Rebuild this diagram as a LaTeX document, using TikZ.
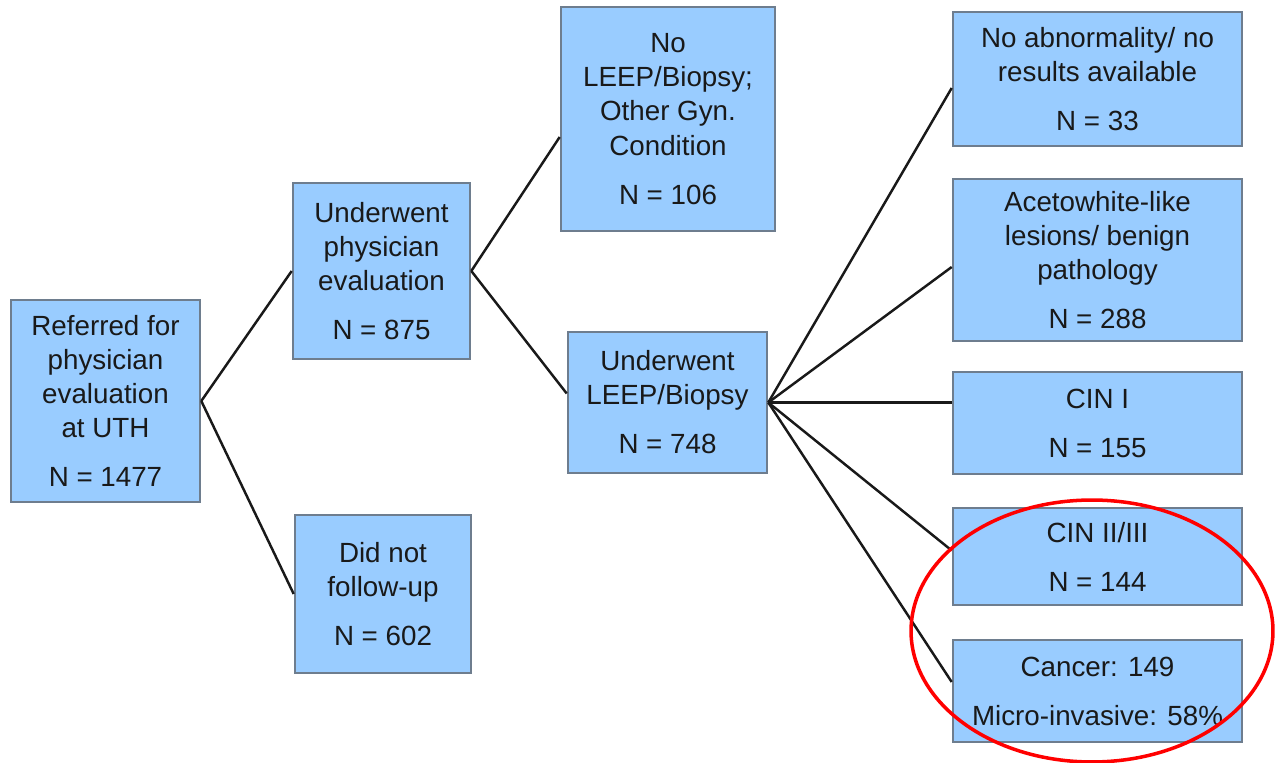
\documentclass[tikz,border=0pt]{standalone}
\usepackage{fontspec}
\setmainfont{Liberation Sans}
\usepackage{tikz}
\usetikzlibrary{calc}
\definecolor{boxblue}{RGB}{153,204,255}
\definecolor{boxedge}{RGB}{110,125,142}
\definecolor{txtgray}{RGB}{25,25,25}
\tikzset{
	box/.style={draw=boxedge, fill=boxblue, line width=1.5pt, align=center, inner sep=0pt,
		text=txtgray, font=\fontsize{15.8}{19.4}\selectfont},
	link/.style={line width=1.4pt, color=black!90},
}

\begin{document}
\begin{tikzpicture}[x=0.02cm, y=-0.02cm]
		%%%%% START %%%%%
		
		\useasboundingbox (0, 0) rectangle (1275, 763);
		
		\node[box, minimum width=3.78cm, minimum height=4.04cm] (refer) at (105.5, 401) {Referred for\\physician\\evaluation\\at UTH\\[8.5pt]N = 1477};
		
		\node[box, minimum width=3.54cm, minimum height=3.52cm] (physeval) at (381.5, 271) {Underwent\\physician\\evaluation\\[8.5pt]N = 875};
		\node[box, minimum width=3.52cm, minimum height=3.16cm] (nofollow) at (383, 594) {Did not\\follow-up\\[8.5pt]N = 602};
		
		\node[box, minimum width=4.28cm, minimum height=4.48cm] (noleep) at (668, 119) {No\\LEEP/Biopsy;\\Other Gyn.\\Condition\\[8.5pt]N = 106};
		\node[box, minimum width=3.98cm, minimum height=2.82cm] (leep) at (667.5, 402.5) {Underwent\\LEEP/Biopsy\\[8.5pt]N = 748};
		
		\node[box, minimum width=5.78cm, minimum height=2.68cm] (normal) at (1097.5, 79) {No abnormality/ no\\results available\\[8.5pt]N = 33};
		\node[box, minimum width=5.78cm, minimum height=3.24cm] (benign) at (1097.5, 260) {Acetowhite-like\\lesions/ benign\\pathology\\[8.5pt]N = 288};
		\node[box, minimum width=5.78cm, minimum height=2.04cm] (cinone) at (1097.5, 423) {CIN I\\[8.5pt]N = 155};
		\node[box, minimum width=5.78cm, minimum height=1.94cm] (cintwo) at (1097.5, 556.5) {CIN II/III\\[8.5pt]N = 144};
		\node[box, minimum width=5.78cm, minimum height=2.04cm] (cancer) at (1097.5, 691) {Cancer: 149\\[8.5pt]Micro-invasive: 58\%};
		
		\draw[link] (refer.east) -- (physeval.west);
		\draw[link] (refer.east) -- (nofollow.west);
		
		\draw[link] (physeval.east) -- ([yshift=-0.36cm]noleep.west);
		\draw[link] (physeval.east) -- ([yshift=0.18cm]leep.west);
		
		\draw[link] (leep.east) -- ([yshift=-0.18cm]normal.west);
		\draw[link] (leep.east) -- ([yshift=-0.14cm]benign.west);
		\draw[link] (leep.east) -- (leep.east -| cinone.west);
		\draw[link] (leep.east) -- ([yshift=0.12cm]cintwo.west);
		\draw[link] (leep.east) -- ([yshift=0.18cm]cancer.west);
		
		\draw[line width=2pt, color=red] (1092, 631) ellipse [x radius=3.62cm, y radius=2.62cm];
		
		%%%%% END %%%%%
	\end{tikzpicture}
\end{document}
